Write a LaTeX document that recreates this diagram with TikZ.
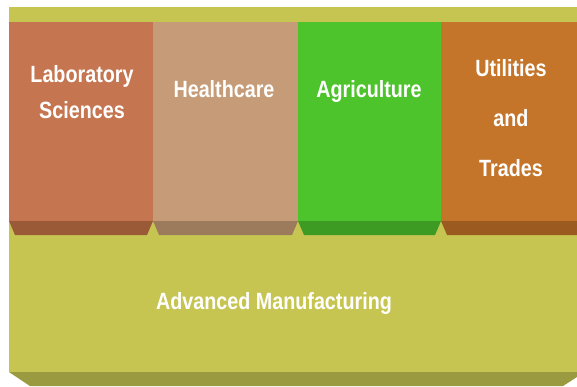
\documentclass[tikz,border=0pt]{standalone}
\usepackage{fontspec}
\newfontfamily\labelfont[FakeStretch=0.84]{Liberation Sans}
\definecolor{baseolive}{HTML}{C6C552}
\definecolor{darkolive}{HTML}{9A9A40}
\definecolor{labfill}{HTML}{C57550}
\definecolor{labside}{HTML}{9A5A38}
\definecolor{healthfill}{HTML}{C59C77}
\definecolor{healthside}{HTML}{9C7B5D}
\definecolor{agrifill}{HTML}{4DC42C}
\definecolor{agriside}{HTML}{3D9A22}
\definecolor{utilfill}{HTML}{C4752A}
\definecolor{utilside}{HTML}{9A5A20}
\begin{document}
\begin{tikzpicture}
	[x=1pt,y=-1pt,
	 label/.style={text=white,align=center,inner sep=0pt,
	   font=\labelfont\bfseries\fontsize{23.5}{36}\selectfont}]
    \useasboundingbox (0,0) rectangle (577,386);

    % base block
    \fill[baseolive] (9,7) rectangle (577,372);
    \fill[darkolive] (9,372) -- (577,372) -- (577,377) -- (563,386) -- (30,386) -- cycle;

    % columns
    \fill[labfill] (9,22) rectangle (153,221);
    \fill[labside] (9,221) -- (153,221) -- (147,235) -- (15,235) -- cycle;
    \fill[healthfill] (153,22) rectangle (298,221);
    \fill[healthside] (153,221) -- (298,221) -- (292,235) -- (159,235) -- cycle;
    \fill[agrifill] (298,22) rectangle (441,221);
    \fill[agriside] (298,221) -- (441,221) -- (435,235) -- (304,235) -- cycle;
    \fill[utilfill] (441,22) rectangle (577,221);
    \fill[utilside] (441,221) -- (577,221) -- (577,235) -- (447,235) -- cycle;

    \node[label] (lab) at (82,92) {Laboratory\\Sciences};
    \node[label] (health) at (224,89) {Healthcare};
    \node[label] (agri) at (369,91) {Agriculture};
    \node[label,font=\labelfont\bfseries\fontsize{23.5}{50}\selectfont] (util) at (511,118) {Utilities\\and\\Trades};
    \node[label] (manuf) at (274,303) {Advanced Manufacturing};

\end{tikzpicture}
\end{document}
